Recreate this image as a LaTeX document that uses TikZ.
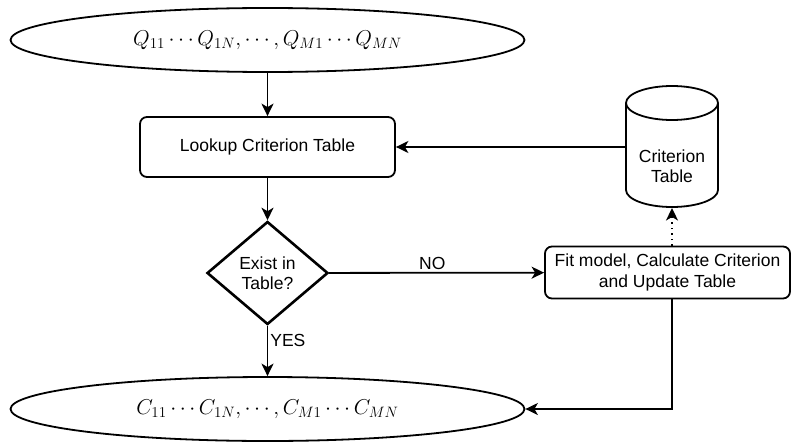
\RequirePackage{fix-cm}
\documentclass[tikz,border=0pt]{standalone}
\usepackage[no-math]{fontspec}
\setmainfont{Liberation Sans}
\usetikzlibrary{shapes.geometric,arrows.meta}
\begin{document}
\begin{tikzpicture}[x=1pt,y=-1pt,
  every node/.style={font=\fontsize{17.5}{20.5}\selectfont},
  line/.style={line width=1.8pt},
  arr/.style={line, -{Stealth[length=12.5pt,width=12pt,inset=3.5pt]}},
  ell/.style={ellipse, draw, line width=1.8pt, minimum width=514pt, minimum height=64pt, inner sep=0pt, font=\fontsize{21.5}{25}\selectfont},
  proc/.style={draw, line width=1.8pt, rounded corners=7pt, inner sep=0pt, align=center},
  dec/.style={diamond, draw, line width=2.6pt, aspect=1.17, inner sep=0pt, minimum width=121pt, minimum height=103pt, align=center},
  lbl/.style={font=\fontsize{17.5}{21}\selectfont, inner sep=2pt}
]
\useasboundingbox (0,0) rectangle (791,441);
\node[ell] (q) at (267.5,40) {$Q_{11}\cdots Q_{1N},\cdots,Q_{M1}\cdots Q_{MN}$};
\node[proc, minimum width=255pt, minimum height=60pt] (lookup) at (267.5,147) {Lookup Criterion Table};
\node[dec] (exist) at (267.5,273) {Exist in\\Table?};
\node[ell] (c) at (267.5,409) {$C_{11}\cdots C_{1N},\cdots,C_{M1}\cdots C_{MN}$};
\node[proc, minimum width=245pt, minimum height=52pt] (fit) at (667.5,272.5) {Fit model, Calculate Criterion\\and Update Table};
% cylinder
\node[minimum width=92pt, minimum height=80pt, inner sep=0pt, align=center] (db) at (672,166) {Criterion\\Table};
\draw[line] (626,103) -- (626,190) arc[start angle=180, end angle=360, x radius=46pt, y radius=17pt] -- (718,103) arc[start angle=0, end angle=180, x radius=46pt, y radius=17pt] -- cycle;
\draw[line] (626,103) arc[start angle=180, end angle=360, x radius=46pt, y radius=17pt];
\coordinate (dbw) at (626,147);
\coordinate (dbs) at (672,208);
% connectors
\draw[arr] (q) -- (lookup);
\draw[arr] (lookup) -- (exist);
\draw[arr] (exist) -- node[lbl, pos=0.3, anchor=west] {YES} (c);
\draw[arr] (exist) -- node[lbl, above, pos=0.48] {NO} (fit);
\draw[arr] (dbw) -- (lookup.east);
\draw[arr, dash pattern=on 1.5pt off 4pt] (fit.north -| dbs) -- (dbs);
\draw[arr] (fit.south -| dbs) |- (c.east);
\end{tikzpicture}
\end{document}
